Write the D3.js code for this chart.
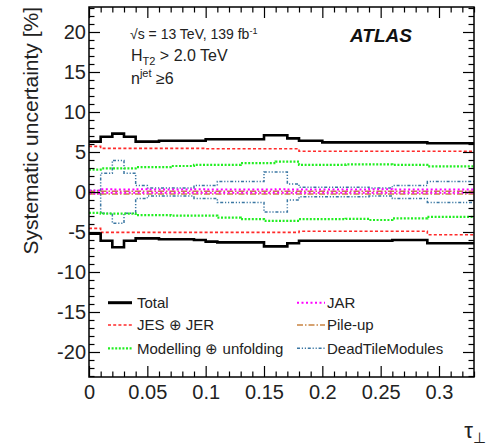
<!DOCTYPE html>
<html><head><meta charset="utf-8">
<script src="https://cdn.jsdelivr.net/npm/d3@7"></script>
<style>body{margin:0;background:#fff}svg{display:block}</style>
</head><body>
<svg id="c" width="488" height="445"></svg>
<script>
// ---- data ----
const binEdges = [0, 0.01, 0.02, 0.03, 0.04, 0.05, 0.06, 0.07, 0.09, 0.10, 0.11, 0.13, 0.14, 0.15, 0.16, 0.17, 0.18, 0.19, 0.20, 0.22, 0.24, 0.26, 0.29, 0.33];
const totalUp   = [6.3, 6.9, 7.3, 6.9, 6.3, 6.3, 6.4, 6.4, 6.4, 6.6, 6.6, 6.6, 6.6, 7.1, 7.1, 6.7, 6.4, 6.4, 6.2, 6.2, 6.2, 6.2, 6.1];
const totalDown = [-5.2, -6.1, -6.9, -6.1, -5.8, -5.8, -5.9, -5.9, -6.0, -6.2, -6.3, -6.3, -6.3, -6.8, -6.8, -6.4, -6.1, -6.1, -6.1, -6.1, -6.1, -6.0, -6.4];
const jesUp     = [5.7, 5.45, 5.45, 5.45, 5.45, 5.45, 5.45, 5.45, 5.45, 5.4, 5.4, 5.4, 5.4, 5.4, 5.4, 5.4, 5.1, 5.1, 5.1, 5.1, 5.1, 5.1, 5.1];
const jesDown   = [-4.55, -5.05, -5.05, -5.05, -5.05, -5.05, -5.05, -5.05, -5.05, -5.05, -5.05, -5.05, -5.05, -5.05, -5.05, -5.05, -4.9, -4.9, -4.9, -4.9, -4.9, -4.9, -5.35];
const modUp     = [2.8, 2.95, 2.95, 2.95, 3.1, 3.1, 3.1, 3.25, 3.4, 3.4, 3.4, 3.6, 3.6, 3.6, 3.8, 3.8, 3.4, 3.4, 3.4, 3.45, 3.45, 3.4, 3.2];
const modDown   = [-2.6, -2.7, -2.7, -2.7, -2.9, -2.9, -2.9, -2.95, -2.95, -2.95, -3.2, -3.4, -3.4, -3.6, -3.6, -3.6, -3.4, -3.4, -3.4, -3.35, -3.5, -3.3, -3.1];
const jarUp     = [0.2, 0.35, 0.3, 0.3, 0.35, 0.3, 0.3, 0.3, 0.35, 0.3, 0.3, 0.3, 0.3, 0.3, 0.35, 0.3, 0.3, 0.3, 0.3, 0.3, 0.35, 0.3, 0.3];
const jarDown   = [-0.2, -0.1, -0.1, -0.1, -0.1, -0.1, -0.1, -0.1, -0.1, -0.1, -0.1, -0.1, -0.1, -0.1, -0.1, -0.1, -0.1, -0.1, -0.1, -0.1, -0.1, -0.1, -0.1];
const pileUp    = [0.1, 0.1, 0.1, 0.1, 0.1, 0.1, 0.1, 0.1, 0.1, 0.1, 0.1, 0.1, 0.1, 0.1, 0.1, 0.1, 0.1, 0.1, 0.1, 0.1, 0.1, 0.1, 0.1];
const pileDown  = [-0.25, -0.25, -0.25, -0.25, -0.25, -0.25, -0.25, -0.25, -0.25, -0.25, -0.25, -0.25, -0.25, -0.25, -0.25, -0.25, -0.25, -0.25, -0.25, -0.25, -0.25, -0.25, -0.25];
const deadUp    = [0.2, 2.35, 3.95, 2.35, 0.8, 0.5, 0.5, 0.5, 0.8, 0.8, 1.3, 1.3, 1.3, 2.5, 2.5, 1.0, 0.6, 0.6, 0.6, 0.6, 0.5, 0.8, 1.3];
const deadDown  = [-0.2, -2.65, -3.9, -2.65, -0.8, -0.5, -0.5, -0.5, -0.8, -0.8, -1.3, -1.3, -1.3, -2.5, -2.5, -1.0, -0.6, -0.6, -0.6, -0.6, -0.5, -0.8, -1.3];
const xTickValues = [0, 0.05, 0.1, 0.15, 0.2, 0.25, 0.3];
const xTickLabels = ["0", "0.05", "0.1", "0.15", "0.2", "0.25", "0.3"];
const yTickValues = [-20, -15, -10, -5, 0, 5, 10, 15, 20];
const legendLabels = ["Total", "JES \u2295 JER", "Modelling \u2295 unfolding", "JAR", "Pile-up", "DeadTileModules"];

// ---- layout ----
const svg = d3.select("#c");
const FONT = "'Liberation Sans', Arial, Helvetica, sans-serif";
const L = 89, R = 474, T = 7, B = 377;
const x = d3.scaleLinear().domain([0, 0.33]).range([L, R]);
const y = d3.scaleLinear().domain([-23.125, 23.125]).range([B, T]);

const styles = {
  total: {color: "#000", width: 2.6, dash: null},
  jes:   {color: "#ff2a2a", width: 1.6, dash: "3,2.2"},
  mod:   {color: "#22ee22", width: 2.2, dash: "2,1.6"},
  jar:   {color: "#ff00ff", width: 2.0, dash: "2,2.5"},
  pile:  {color: "#c98442", width: 1.4, dash: "6,2,1.5,2"},
  dead:  {color: "#3b77a3", width: 1.5, dash: "3,1.8,1.2,1.8,1.2,1.8"}
};

const line = d3.line().x(d => x(d[0])).y(d => y(d[1])).curve(d3.curveStepAfter);
function hist(vals) {
  const pts = vals.map((v, i) => [binEdges[i], v]);
  pts.push([binEdges[binEdges.length - 1], vals[vals.length - 1]]);
  return pts;
}
const series = [
  ["dead", deadUp], ["dead", deadDown],
  ["pile", pileUp], ["pile", pileDown],
  ["jar", jarUp], ["jar", jarDown],
  ["mod", modUp], ["mod", modDown],
  ["jes", jesUp], ["jes", jesDown],
  ["total", totalUp], ["total", totalDown]
];
const plot = svg.append("g");
series.forEach(([k, vals]) => {
  const s = styles[k];
  plot.append("path").attr("d", line(hist(vals)))
    .attr("fill", "none").attr("stroke", s.color).attr("stroke-width", s.width)
    .attr("stroke-dasharray", s.dash);
});

// ---- axes ----
const xMinor = d3.range(1, 34).map(i => i / 100).filter(v => Math.abs(v * 20 - Math.round(v * 20)) > 1e-6);
const yMinor = d3.range(-23, 24).filter(v => v % 5 !== 0);
function styleAxis(g) { g.select(".domain").remove(); g.selectAll("line").attr("stroke", "#000").attr("stroke-width", 1.2); }

const xAx = svg.append("g").attr("transform", `translate(0,${B})`)
  .call(d3.axisBottom(x).tickValues(xTickValues).tickFormat((d, i) => xTickLabels[i]).tickSizeInner(-11).tickSizeOuter(0).tickPadding(7.5));
xAx.call(styleAxis);
xAx.selectAll("text").attr("font-family", FONT).attr("font-size", 20).attr("fill", "#222");
svg.append("g").attr("transform", `translate(0,${B})`).call(d3.axisBottom(x).tickValues(xMinor).tickFormat("").tickSizeInner(-5.5).tickSizeOuter(0)).call(styleAxis);
svg.append("g").attr("transform", `translate(0,${T})`).call(d3.axisTop(x).tickValues(xTickValues).tickFormat("").tickSizeInner(-11).tickSizeOuter(0)).call(styleAxis);
svg.append("g").attr("transform", `translate(0,${T})`).call(d3.axisTop(x).tickValues(xMinor).tickFormat("").tickSizeInner(-5.5).tickSizeOuter(0)).call(styleAxis);

const yAx = svg.append("g").attr("transform", `translate(${L},0)`)
  .call(d3.axisLeft(y).tickValues(yTickValues).tickFormat(d => String(d)).tickSizeInner(-11).tickSizeOuter(0).tickPadding(3));
yAx.call(styleAxis);
yAx.selectAll("text").attr("font-family", FONT).attr("font-size", 20).attr("fill", "#222");
svg.append("g").attr("transform", `translate(${L},0)`).call(d3.axisLeft(y).tickValues(yMinor).tickFormat("").tickSizeInner(-5.5).tickSizeOuter(0)).call(styleAxis);
svg.append("g").attr("transform", `translate(${R},0)`).call(d3.axisRight(y).tickValues(yTickValues).tickFormat("").tickSizeInner(-11).tickSizeOuter(0)).call(styleAxis);
svg.append("g").attr("transform", `translate(${R},0)`).call(d3.axisRight(y).tickValues(yMinor).tickFormat("").tickSizeInner(-5.5).tickSizeOuter(0)).call(styleAxis);

svg.append("rect").attr("x", L).attr("y", T).attr("width", R - L).attr("height", B - T)
  .attr("fill", "none").attr("stroke", "#000").attr("stroke-width", 1.5);

// axis titles
svg.append("text").attr("transform", "translate(38,7) rotate(-90)").attr("text-anchor", "end")
  .attr("font-family", FONT).attr("font-size", 21).attr("fill", "#222").text("Systematic uncertainty [%]");
const xt = svg.append("text").attr("x", 486).attr("y", 438).attr("text-anchor", "end")
  .attr("font-family", FONT).attr("font-size", 22).attr("fill", "#222");
xt.append("tspan").text("\u03c4");
xt.append("tspan").attr("dy", 5).attr("font-size", 15).text("\u22a5");

// ---- labels ----
const t1 = svg.append("text").attr("x", 130).attr("y", 39).attr("font-family", FONT).attr("font-size", 14).attr("fill", "#222");
t1.append("tspan").text("\u221as = 13 TeV, 139 fb");
t1.append("tspan").attr("dy", -5).attr("font-size", 9).text("-1");
const t2 = svg.append("text").attr("x", 131).attr("y", 61).attr("font-family", FONT).attr("font-size", 16).attr("fill", "#222");
t2.append("tspan").text("H");
t2.append("tspan").attr("dy", 4).attr("font-size", 11).text("T2");
t2.append("tspan").attr("dy", -4).text(" > 2.0 TeV");
const t3 = svg.append("text").attr("x", 131).attr("y", 84).attr("font-family", FONT).attr("font-size", 16).attr("fill", "#222");
t3.append("tspan").text("n");
t3.append("tspan").attr("dy", -7).attr("font-size", 11).text("jet");
t3.append("tspan").attr("dy", 7).text(" \u22656");
svg.append("text").attr("x", 350).attr("y", 42).attr("font-family", FONT).attr("font-size", 19)
  .attr("font-weight", "bold").attr("font-style", "italic").attr("fill", "#111").text("ATLAS");

// ---- legend ----
const legKeys = ["total", "jes", "mod", "jar", "pile", "dead"];
const legRows = [302.7, 325, 348.3];
legKeys.forEach((k, i) => {
  const col = Math.floor(i / 3), row = i % 3;
  const x0 = col === 0 ? 108 : 297, x1 = col === 0 ? 132 : 325, tx = col === 0 ? 137 : 327;
  const cy = legRows[row];
  const s = styles[k];
  svg.append("line").attr("x1", x0).attr("x2", x1).attr("y1", cy).attr("y2", cy)
    .attr("stroke", s.color).attr("stroke-width", k === "total" ? 3 : s.width).attr("stroke-dasharray", s.dash);
  svg.append("text").attr("x", tx).attr("y", cy + 5.3).attr("font-family", FONT).attr("font-size", 15)
    .attr("fill", "#222").text(legendLabels[i]);
});
</script>
</body></html>
